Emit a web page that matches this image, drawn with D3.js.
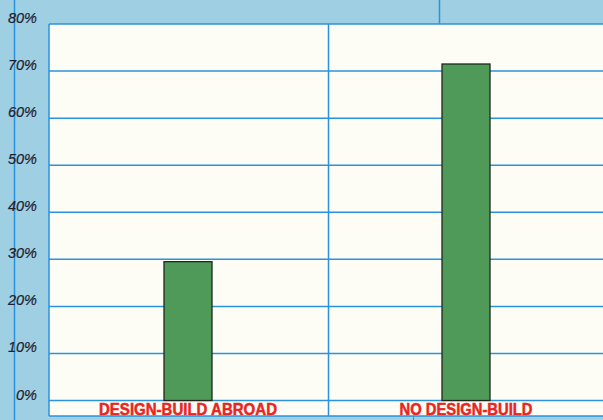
<!DOCTYPE html>
<html><head><meta charset="utf-8">
<script src="https://cdn.jsdelivr.net/npm/d3@7"></script>
<style>html,body{margin:0;padding:0;background:#9fcfe2;}svg{display:block;}</style>
</head><body>
<svg id="chart" width="603" height="420"></svg>
<script>
const categories = ["DESIGN-BUILD ABROAD", "NO DESIGN-BUILD"];
const values = [29.5, 71.5];
const yTicks = [0, 10, 20, 30, 40, 50, 60, 70, 80];
const yTickLabels = ["0%", "10%", "20%", "30%", "40%", "50%", "60%", "70%", "80%"];

const svg = d3.select("#chart");
const W = 603, H = 420;
const plot = {left: 49, top: 24, right: 603, bottom: 416};

svg.append("rect").attr("width", W).attr("height", H).attr("fill", "#9fcfe2");

const x = d3.scaleBand().domain(categories).range([49, 605]).paddingInner(0).paddingOuter(0);
const y = d3.scaleLinear().domain([0, 80]).range([400.5, 24]);

// white plot area
svg.append("rect").attr("x", plot.left).attr("y", plot.top)
  .attr("width", plot.right - plot.left + 2).attr("height", plot.bottom - plot.top)
  .attr("fill", "#fdfdf6");

const gridColor = "#2a92de";
// horizontal gridlines
svg.append("g").selectAll("line").data(yTicks).join("line")
  .attr("x1", plot.left).attr("x2", W)
  .attr("y1", d => y(d)).attr("y2", d => y(d))
  .attr("stroke", gridColor).attr("stroke-width", 1.5);

// bottom border
svg.append("line").attr("x1", plot.left).attr("x2", W).attr("y1", plot.bottom).attr("y2", plot.bottom)
  .attr("stroke", gridColor).attr("stroke-width", 1.5);
// left border
svg.append("line").attr("x1", plot.left).attr("x2", plot.left).attr("y1", plot.top).attr("y2", plot.bottom)
  .attr("stroke", gridColor).attr("stroke-width", 1.5);
// category divider
const divX = x(categories[1]) + 1.5;
svg.append("line").attr("x1", divX).attr("x2", divX).attr("y1", plot.top).attr("y2", plot.bottom)
  .attr("stroke", gridColor).attr("stroke-width", 1.5);

// decorative background lines
svg.append("line").attr("x1", 14.5).attr("x2", 14.5).attr("y1", 0).attr("y2", H)
  .attr("stroke", gridColor).attr("stroke-width", 1.5);
svg.append("line").attr("x1", 439.5).attr("x2", 439.5).attr("y1", 0).attr("y2", plot.top)
  .attr("stroke", gridColor).attr("stroke-width", 1.5);
svg.append("line").attr("x1", 413.5).attr("x2", 413.5).attr("y1", plot.bottom).attr("y2", H)
  .attr("stroke", gridColor).attr("stroke-width", 1);

// bars
const barW = 48;
svg.append("g").selectAll("rect").data(categories).join("rect")
  .attr("x", d => x(d) + x.bandwidth() / 2 - barW / 2)
  .attr("y", (d, i) => y(values[i]))
  .attr("width", barW)
  .attr("height", (d, i) => y(0) - y(values[i]))
  .attr("fill", "#4f9a58")
  .attr("stroke", "#1d2a1d").attr("stroke-width", 1.3);

// y labels
svg.append("g").selectAll("text").data(yTicks).join("text")
  .attr("x", 37).attr("y", d => y(d) - 1)
  .attr("text-anchor", "end")
  .attr("font-family", "'Liberation Sans', Arial, sans-serif")
  .attr("font-style", "italic")
  .attr("font-size", 14.5)
  .attr("fill", "#1f2030")
  .attr("stroke", "#1f2030").attr("stroke-width", 0.2)
  .text((d, i) => yTickLabels[i]);

// x labels
const labelWidths = [178, 133];
svg.append("g").selectAll("text").data(categories).join("text")
  .attr("x", d => x(d) + x.bandwidth() / 2)
  .attr("y", 414.5)
  .attr("text-anchor", "middle")
  .attr("font-family", "'Liberation Sans Narrow', 'Arial Narrow', 'Liberation Sans', sans-serif")
  .attr("font-weight", "bold")
  .attr("font-size", 16.5)
  .attr("textLength", (d, i) => labelWidths[i])
  .attr("lengthAdjust", "spacingAndGlyphs")
  .attr("fill", "#e8261f")
  .attr("stroke", "#e8261f").attr("stroke-width", 0.5)
  .text(d => d);
</script>
</body></html>
